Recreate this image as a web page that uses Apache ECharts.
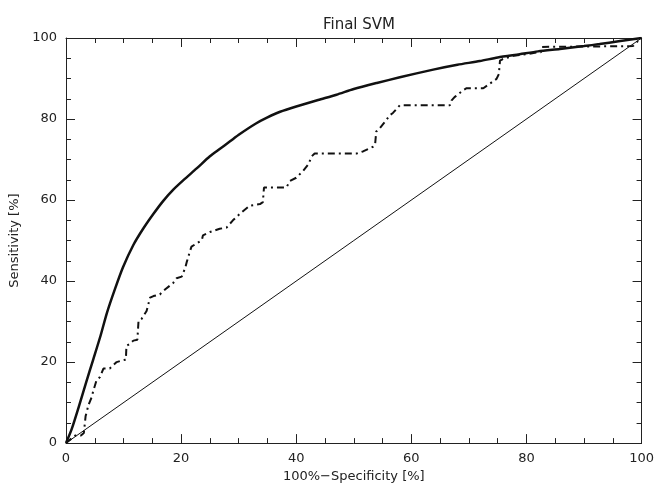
<!DOCTYPE html>
<html>
<head>
<meta charset="utf-8">
<script src="https://cdn.jsdelivr.net/npm/echarts@6/dist/echarts.min.js"></script>
<style>html,body{margin:0;padding:0;background:#fff;}#c{width:657px;height:488px;}</style>
</head>
<body>
<div id="c"></div>
<script>
var xTicks = [0, 20, 40, 60, 80, 100];
var yTicks = [0, 20, 40, 60, 80, 100];

var svmX = [0,1,2.4,3.5,4.7,6,7.1,8.5,9.9,11.7,13.4,15.2,16.9,18.6,20.4,22.7,25,26.7,28.5,30.2,33,35,37.2,40,43.8,47,50,54,58,63.8,68,71.9,75,78.8,82,85.8,90,92.7,96,100];
var svmY = [0,3.5,9.8,15,20.5,26.5,32.1,38,43.4,48.9,52.9,56.6,59.8,62.5,64.9,67.8,70.8,72.6,74.5,76.3,78.9,80.4,81.8,83.1,84.7,86,87.4,88.9,90.3,92.2,93.4,94.3,95.2,96,96.7,97.3,98,98.5,99.2,100];

var testX = [0,1.6,2.6,3.1,3.4,3.9,4.5,4.7,5.3,5.9,6.5,7.6,8.8,9.7,10.4,10.5,11.1,11.7,12.4,12.6,13.1,14,14.6,15.2,16.3,17.2,18.6,19.2,20.1,20.7,21,21.5,21.8,22.7,23.6,23.8,25,26.7,27.9,29,30.2,31.9,33.7,34.2,34.4,38.3,38.9,40,41.2,42.1,42.7,43.2,50.5,51.6,53.4,53.7,53.9,54.5,55.4,56.3,56.8,58,66.7,67,67.5,69,69.6,72.5,73.6,74.8,75.2,75.4,75.9,77.7,80,81.7,82.5,82.7,82.9,98.5,99.1,100];
var testY = [0,1.9,1.9,2.5,6.6,9.4,11.5,12.7,15.5,16.3,18.4,18.4,20,20.4,20.6,24,24.5,25.3,25.5,30.2,30.6,32.6,35.9,36.3,36.7,37.9,39.5,40.7,41.1,43.2,44.8,47.2,48.5,49.3,50.1,51.3,52.1,52.9,53.2,55,56.6,58.6,59,59.5,63.1,63.1,64.7,65.5,67.2,68.8,70.8,71.5,71.5,72,73.2,73.7,76.9,77.7,79.3,81,81.5,83.4,83.4,84.6,85.4,87.1,87.6,87.6,88.7,89.9,91.1,94.4,94.8,95.6,96,96.4,96.5,97.8,98,98,98.9,100];

var diagX = [0, 100];
var diagY = [0, 100];

function pairs(xs, ys) { return xs.map(function (x, i) { return [x, ys[i]]; }); }

var font = 'DejaVu Sans';
var axisCommon = function (pos, showLabel, name) {
  return {
    type: 'value', position: pos, min: 0, max: 100, interval: 20,
    name: name || '', nameLocation: 'middle',
    nameTextStyle: { fontFamily: font, fontSize: 13, color: '#222' },
    axisLine: { show: true, onZero: false, lineStyle: { color: '#222', width: 1 } },
    axisTick: { show: true, inside: true, length: 9, lineStyle: { color: '#222', width: 1 } },
    minorTick: { show: true, splitNumber: 4, length: 5, lineStyle: { color: '#222', width: 1 } },
    splitLine: { show: false },
    axisLabel: { show: showLabel, fontFamily: font, fontSize: 13, color: '#222', margin: 9 }
  };
};

var xa0 = axisCommon('bottom', true, '100%\u2212Specificity [%]'); xa0.nameGap = 25;
var xa1 = axisCommon('top', false);
var ya0 = axisCommon('left', true, 'Sensitivity [%]'); ya0.nameGap = 39;
var ya1 = axisCommon('right', false);

var chart = echarts.init(document.getElementById('c'), null, { renderer: 'canvas' });
chart.setOption({
  animation: false,
  backgroundColor: '#fff',
  title: {
    text: 'Final SVM', left: 354, top: 13, textAlign: 'center',
    textStyle: { fontFamily: font, fontSize: 15, fontWeight: 'normal', color: '#222' }
  },
  grid: { left: 66, right: 15, top: 38, bottom: 41 },
  xAxis: [xa0, xa1],
  yAxis: [ya0, ya1],
  series: [
    { type: 'line', xAxisIndex: 0, yAxisIndex: 0, data: pairs(diagX, diagY), showSymbol: false, symbol: 'none',
      lineStyle: { color: '#111', width: 1 } },
    { type: 'line', xAxisIndex: 0, yAxisIndex: 0, data: pairs(testX, testY), showSymbol: false, symbol: 'none',
      lineStyle: { color: '#111', width: 2, type: [7, 4, 2, 4] } },
    { type: 'line', xAxisIndex: 0, yAxisIndex: 0, data: pairs(svmX, svmY), showSymbol: false, symbol: 'none',
      smooth: 0.25,
      lineStyle: { color: '#111', width: 2.5 } }
  ]
});
</script>
</body>
</html>
